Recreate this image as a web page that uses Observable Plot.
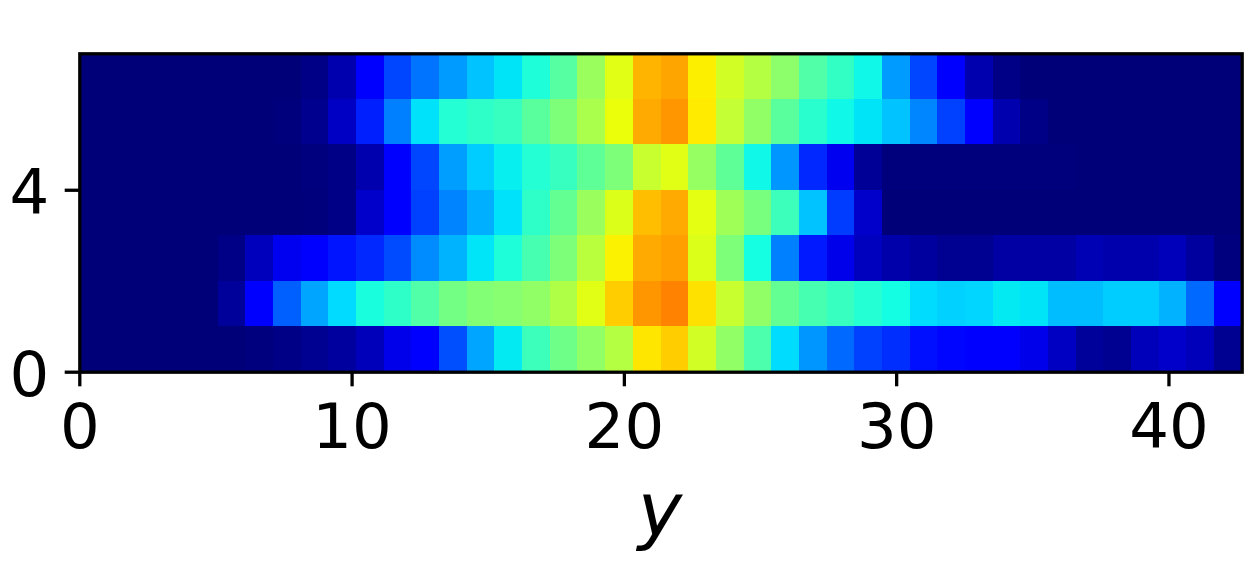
<!DOCTYPE html>
<html>
<head>
<meta charset="utf-8">
<script src="https://cdn.jsdelivr.net/npm/d3@7"></script>
<script src="https://cdn.jsdelivr.net/npm/@observablehq/plot@0.6"></script>
<style>
html,body{margin:0;padding:0;background:#fff}
svg{display:block}
</style>
</head>
<body>
<div id="chart"></div>
<script>
// Values, one array per row (bottom row first), 42 columns each.
const row0 = [0,0,0,0,0,.001,.006,.011,.02,.032,.054,.093,.118,.203,.287,.355,.423,.484,.526,.569,.666,.693,.605,.526,.441,.341,.272,.228,.189,.17,.14,.13,.118,.115,.093,.06,.028,.02,.054,.067,.054,.02];
const row1 = [0,0,0,0,0,.028,.115,.218,.287,.34,.38,.405,.447,.49,.508,.514,.526,.563,.624,.693,.751,.772,.672,.593,.526,.472,.435,.417,.393,.374,.341,.33,.335,.355,.349,.311,.311,.326,.326,.3,.228,.115];
const row2 = [0,0,0,0,0,.012,.055,.098,.115,.145,.164,.198,.262,.301,.35,.386,.435,.502,.575,.654,.73,.741,.618,.502,.375,.25,.15,.093,.058,.041,.032,.02,.02,.035,.035,.035,.05,.042,.042,.054,.032,.006];
const row3 = [0,0,0,0,0,0,0,0,.004,.012,.067,.115,.189,.255,.297,.346,.405,.472,.538,.618,.709,.73,.628,.545,.497,.423,.316,.184,.067,0,0,0,0,0,0,0,0,0,0,0,0,0];
const row4 = [0,0,0,0,0,0,0,0,.006,.012,.045,.115,.193,.28,.326,.36,.393,.417,.465,.502,.593,.624,.532,.465,.368,.272,.164,.098,.025,.004,.004,.004,.004,.004,.004,.004,0,0,0,0,0,0];
const row5 = [0,0,0,0,0,0,0,.003,.018,.063,.155,.25,.346,.393,.405,.417,.459,.502,.557,.636,.73,.751,.661,.587,.526,.459,.399,.368,.349,.316,.257,.189,.115,.045,.012,0,0,0,0,0,0,0];
const row6 = [0,0,0,0,0,0,0,0,.012,.045,.115,.193,.238,.277,.316,.349,.386,.453,.538,.624,.719,.735,.656,.605,.569,.52,.447,.411,.368,.277,.193,.115,.045,.012,0,0,0,0,0,0,0,0];
const rows = [row0,row1,row2,row3,row4,row5,row6];

const xTicks = [0,10,20,30,40];
const yTicks = [0,4];
const xMax = 42.69;
const yMax = 7;
const xLabel = "y";

// Colormap stops (jet)
const jetStops  = [0,.11,.125,.34,.35,.375,.64,.65,.66,.89,.91,1];
const jetColors = ["rgb(0,0,120)","rgb(0,0,255)","rgb(0,0,255)","rgb(0,219,255)","rgb(0,229,247)","rgb(21,255,226)","rgb(238,255,8)","rgb(247,246,0)","rgb(255,236,0)","rgb(255,19,0)","rgb(246,0,0)","rgb(128,0,0)"];

const step = xMax / row0.length;
const cells = rows.flatMap((r, j) => r.map((v, i) => ({
  x1: i * step, x2: (i + 1) * step, y1: j, y2: j + 1, v
})));

const fontSize = 62.5;
const tickSize = 14.6;

const plot = Plot.plot({
  width: 1250,
  height: 580,
  marginLeft: 79.3,
  marginRight: 8.3,
  marginTop: 53.3,
  marginBottom: 208.3,
  style: {fontFamily: "'DejaVu Sans'", background: "#fff", overflow: "visible"},
  x: {domain: [0, xMax]},
  y: {domain: [0, yMax]},
  color: {type: "linear", domain: jetStops, range: jetColors, clamp: true},
  marks: [
    Plot.rect(cells, {x1: "x1", x2: "x2", y1: "y1", y2: "y2", fill: "v", shapeRendering: "crispEdges"}),
    Plot.frame({stroke: "black", strokeWidth: 3.3}),
    Plot.axisX({ticks: xTicks, tickFormat: d => String(d), label: null, tickSize, tickPadding: 16.5, fontSize, stroke: "black", strokeWidth: 3.3, fill: "black"}),
    Plot.axisY({ticks: yTicks, label: null, tickSize, stroke: "black", strokeWidth: 3.3, fill: "none"}),
    Plot.axisY({ticks: yTicks, tickFormat: d => String(d), label: null, tickSize: 0, tickPadding: tickSize + 16, fontSize, dy: 3.3, fill: "black"}),
    Plot.text([xLabel], {text: d => d, frameAnchor: "bottom", dx: -1, dy: 164, fontSize: 75, fontStyle: "italic", fill: "black", lineAnchor: "bottom"})
  ]
});
document.getElementById("chart").appendChild(plot);
</script>
</body>
</html>
